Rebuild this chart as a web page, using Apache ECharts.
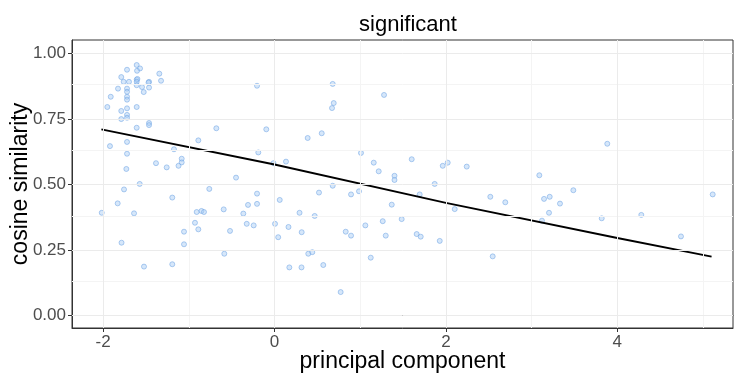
<!DOCTYPE html>
<html>
<head>
<meta charset="utf-8">
<script src="https://cdn.jsdelivr.net/npm/echarts@6/dist/echarts.min.js"></script>
<style>
  html, body { margin: 0; padding: 0; background: #fff; }
  #chart { width: 734px; height: 374px; }
</style>
</head>
<body>
<div id="chart"></div>
<script>
// scatter points: principal component (x) and cosine similarity (y)
const pcX = [
  -1.608, -1.569, -1.604, -1.721, -1.344, -1.788, -1.760, -1.698, -1.608, -1.600,
  -1.608, -1.464, -1.470, -1.324, -1.608, -1.546, -1.464, -1.826, -1.721, -1.721,
  -1.526, -1.911, -1.721, -1.721, -1.951, -1.721, -1.608, -1.788, -1.721, -1.721,
  -1.788, -1.464, -1.464, -1.608, -0.679, -1.920, -1.721, -1.721, -0.889, -1.173,
  -1.083, -1.083, -1.120, -1.383, -1.258, -1.729, -1.573, -1.756, -0.761, -0.449,
  -0.204, -0.189, -1.830, -2.016, -1.639, -1.785, -1.193, -1.056, -1.056, -1.523,
  -1.193, -0.908, -0.852, -0.823, -0.928, -0.889, -0.593, -0.519, -0.586, -0.364,
  -0.309, -0.324, -0.243, -0.204, -0.204, 0.061, 0.292, 0.006, 0.163, 0.043,
  0.173, 0.315, 0.679, 0.691, 0.671, 1.278, -0.096, 0.387, 0.551, -0.012,
  0.134, 1.009, 1.158, 1.216, 1.400, 1.400, 1.601, 1.869, 0.679, 0.519,
  0.893, 0.986, 0.469, 0.317, 0.831, 0.893, 1.060, 1.263, 1.298, 1.368,
  1.484, 1.694, 1.659, 1.706, 1.928, 0.394, 0.441, 0.569, 1.123, 0.772,
  1.963, 2.021, 2.243, 3.090, 3.883, 3.487, 2.518, 2.693, 2.103, 2.546,
  3.145, 3.211, 3.331, 3.203, 3.121, 3.818, 4.280, 4.743, 5.113
];
const cosY = [
  0.955, 0.942, 0.933, 0.937, 0.922, 0.909, 0.891, 0.891, 0.899, 0.902,
  0.891, 0.891, 0.888, 0.895, 0.878, 0.871, 0.869, 0.865, 0.865, 0.853,
  0.852, 0.834, 0.834, 0.823, 0.795, 0.790, 0.795, 0.780, 0.765, 0.754,
  0.749, 0.734, 0.726, 0.716, 0.714, 0.646, 0.662, 0.617, 0.668, 0.634,
  0.598, 0.584, 0.571, 0.581, 0.565, 0.559, 0.502, 0.481, 0.483, 0.526,
  0.876, 0.622, 0.428, 0.392, 0.390, 0.278, 0.450, 0.320, 0.272, 0.187,
  0.196, 0.395, 0.399, 0.395, 0.354, 0.329, 0.405, 0.323, 0.236, 0.389,
  0.422, 0.350, 0.344, 0.465, 0.426, 0.441, 0.392, 0.350, 0.338, 0.299,
  0.184, 0.184, 0.883, 0.810, 0.791, 0.841, 0.710, 0.677, 0.695, 0.581,
  0.587, 0.620, 0.583, 0.550, 0.533, 0.517, 0.596, 0.502, 0.495, 0.469,
  0.462, 0.474, 0.380, 0.318, 0.320, 0.305, 0.344, 0.360, 0.305, 0.423,
  0.368, 0.462, 0.311, 0.301, 0.285, 0.236, 0.242, 0.193, 0.221, 0.090,
  0.571, 0.583, 0.568, 0.535, 0.655, 0.478, 0.453, 0.432, 0.406, 0.226,
  0.445, 0.453, 0.427, 0.392, 0.362, 0.371, 0.384, 0.302, 0.462
];

// fitted trend line
const fitX = [-2.02, 0, 2, 4, 5.1];
const fitY = [0.710, 0.576, 0.430, 0.296, 0.225];

// axis breaks
const xBreaks = [-2, 0, 2, 4];
const xMinor = [-1, 1, 3, 5];
const yBreaks = [0, 0.25, 0.5, 0.75, 1];
const yMinor = [0.125, 0.375, 0.625, 0.875];

const points = pcX.map((x, i) => [x, cosY[i]]);
const fitLine = fitX.map((x, i) => [x, fitY[i]]);

const minorStyle = { color: '#F4F4F4', width: 1, type: 'solid' };
const majorStyle = { color: '#EBEBEB', width: 1, type: 'solid' };
const gridLines = [].concat(
  xMinor.map(v => ({ xAxis: v, lineStyle: minorStyle })),
  yMinor.map(v => ({ yAxis: v, lineStyle: minorStyle })),
  xBreaks.map(v => ({ xAxis: v, lineStyle: majorStyle })),
  yBreaks.map(v => ({ yAxis: v, lineStyle: majorStyle }))
);

const font = '"Liberation Sans", Arial, sans-serif';
const xRange = [-2.363, 5.35];
const yRange = [-0.0469, 1.0503];
const chart = echarts.init(document.getElementById('chart'));

// plain frame axes for the top / right panel border
const frameAxis = {
  axisLine: { show: true, lineStyle: { color: '#333333', width: 1 } },
  axisTick: { show: false },
  axisLabel: { show: false },
  splitLine: { show: false }
};

const option = {
  animation: false,
  backgroundColor: '#ffffff',
  textStyle: { fontFamily: font },
  title: {
    text: 'significant',
    left: 403,
    top: 9,
    textAlign: 'center',
    textStyle: { fontFamily: font, fontSize: 22, fontWeight: 'normal', color: '#000' }
  },
  grid: {
    left: 72, right: 1, top: 40, bottom: 46,
    outerBoundsMode: 'none',
    containLabel: false,
    show: true, backgroundColor: '#ffffff', borderColor: '#333333', borderWidth: 1
  },
  xAxis: [
    {
      type: 'value',
      min: xRange[0], max: xRange[1],
      name: 'principal component',
      nameLocation: 'middle',
      nameGap: 22,
      nameMoveOverlap: false,
      nameTextStyle: { fontFamily: font, fontSize: 23, color: '#000' },
      axisLine: { show: true, onZero: false, lineStyle: { color: '#333333' } },
      splitLine: { show: false },
      axisTick: { show: true, customValues: xBreaks, length: 4, lineStyle: { color: '#333333' } },
      axisLabel: { customValues: xBreaks, fontFamily: font, fontSize: 17, color: '#4D4D4D', margin: 6 }
    },
    Object.assign({ type: 'value', position: 'top', min: xRange[0], max: xRange[1] }, frameAxis)
  ],
  yAxis: [
    {
      type: 'value',
      min: yRange[0], max: yRange[1],
      name: 'cosine similarity',
      nameLocation: 'middle',
      nameGap: 40,
      nameMoveOverlap: false,
      nameTextStyle: { fontFamily: font, fontSize: 23, color: '#000' },
      axisLine: { show: true, onZero: false, lineStyle: { color: '#333333' } },
      splitLine: { show: false },
      axisTick: { show: true, customValues: yBreaks, length: 4, lineStyle: { color: '#333333' } },
      axisLabel: {
        customValues: yBreaks, fontFamily: font, fontSize: 17, color: '#4D4D4D', margin: 6,
        formatter: v => v.toFixed(2)
      }
    },
    Object.assign({ type: 'value', position: 'right', min: yRange[0], max: yRange[1] }, frameAxis)
  ],
  series: [
    {
      type: 'line',
      data: [],
      silent: true,
      z: 1,
      markLine: {
        silent: true,
        symbol: 'none',
        label: { show: false },
        emphasis: { disabled: true },
        data: gridLines
      }
    },
    {
      type: 'scatter',
      data: points,
      symbolSize: 5,
      z: 2,
      itemStyle: {
        color: 'rgba(170,204,244,0.6)',
        borderColor: 'rgba(115,165,228,0.7)',
        borderWidth: 1
      }
    },
    {
      type: 'line',
      data: fitLine,
      showSymbol: false,
      z: 3,
      lineStyle: { color: '#000000', width: 1.8 }
    }
  ]
};

chart.setOption(option);
</script>
</body>
</html>
